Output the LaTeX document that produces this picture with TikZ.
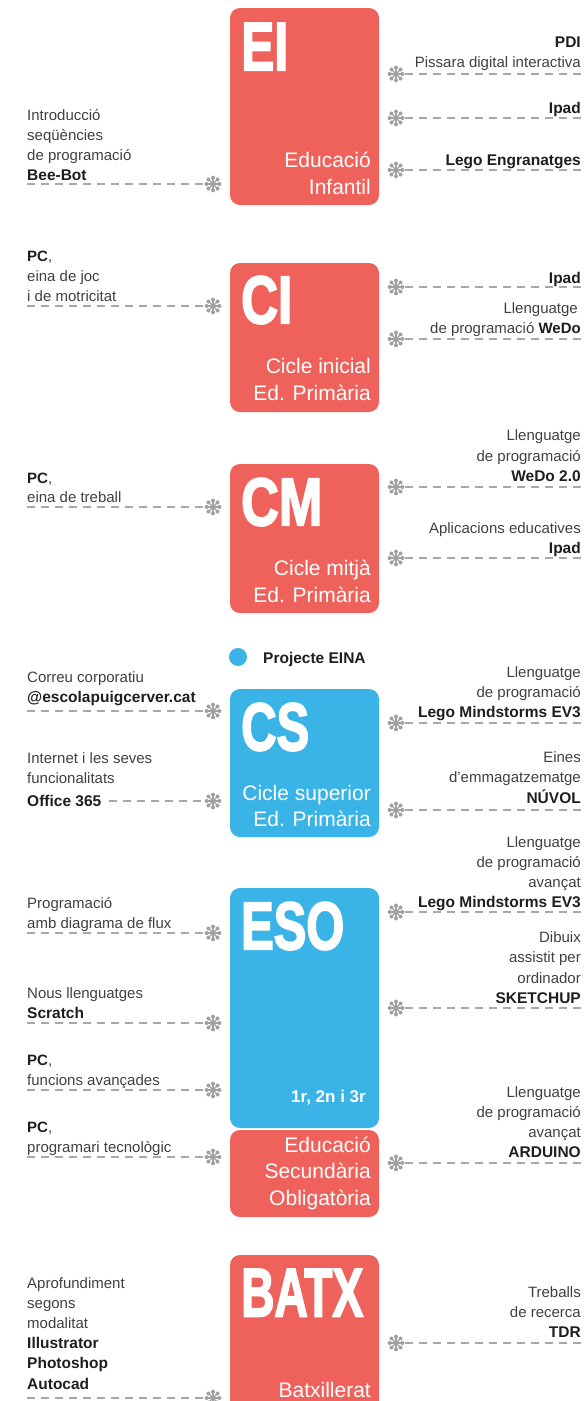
\documentclass[tikz,border=0pt]{standalone}
\usepackage{fontspec}
\setmainfont{Liberation Sans}
\newfontfamily\titlefont{Liberation Sans}[BoldFeatures={FakeBold=3}]
\usepackage{graphicx}
\usetikzlibrary{calc}
\definecolor{boxred}{HTML}{EE625B}
\definecolor{boxblue}{HTML}{3AB3E6}
\definecolor{dashgray}{HTML}{A8A8A8}
\definecolor{astgray}{HTML}{A0A0A0}
\definecolor{txtlight}{HTML}{404040}
\definecolor{txtbold}{HTML}{1E1E1E}
\newcommand{\ttl}[2]{\resizebox{#1pt}{47pt}{\titlefont\bfseries #2}}
\begin{document}
\begin{tikzpicture}[x=1pt,y=-1pt,
  box/.style={rounded corners=10pt, inner sep=0pt, outer sep=0pt, minimum width=149pt, anchor=north west},
  lt/.style={inner sep=0pt, text=txtlight, font=\fontsize{15}{18}\selectfont},
  bt/.style={inner sep=0pt, text=txtbold, font=\fontsize{15.5}{18}\selectfont\bfseries},
  lw/.style={anchor=base west},
  le/.style={anchor=base east},
  sub/.style={inner sep=0pt, text=white, font=\fontsize{21}{25}\selectfont, anchor=base east},
  ttlnode/.style={inner sep=0pt, text=white, anchor=north west},
  conn/.style={draw=dashgray, line width=2pt, dash pattern=on 8pt off 6pt},
  ast/.style={circle, inner sep=0pt, minimum size=18pt, path picture={
    \foreach \a in {0,45,...,315}{
      \draw[astgray, line width=1.3pt, line cap=round] (path picture bounding box.center) -- ++(\a:6.3pt);
      \fill[astgray] ($(path picture bounding box.center)+(\a:6.4pt)$) circle (2pt);
    }}}
]
\useasboundingbox (0,0) rectangle (585,1401);
\clip (0,0) rectangle (585,1401);

% ---------------- boxes ----------------
\node[box, fill=boxred, minimum height=197pt] (EI) at (230,8) {};
\node[box, fill=boxred, minimum height=149pt] (CI) at (230,263) {};
\node[box, fill=boxred, minimum height=149pt] (CM) at (230,464) {};
\node[box, fill=boxblue, minimum height=148pt] (CS) at (230,689) {};
\node[box, fill=boxblue, minimum height=240pt] (ESO) at (230,888) {};
\node[box, fill=boxred, minimum height=87pt] (ESOr) at (230,1130) {};
\node[box, fill=boxred, minimum height=180pt] (BATX) at (230,1255) {};

% titles
\node[ttlnode] (tEI) at (241,23) {\ttl{47}{EI}};
\node[ttlnode] (tCI) at (241,276) {\ttl{51}{CI}};
\node[ttlnode] (tCM) at (241,478) {\ttl{81}{CM}};
\node[ttlnode] (tCS) at (241,703) {\ttl{68}{CS}};
\node[ttlnode] (tESO) at (241,902) {\ttl{103}{ESO}};
\node[ttlnode] (tBATX) at (241,1269) {\ttl{122}{BATX}};

% subtitles
\node[sub] (sEI1) at (371,167) {Educació};
\node[sub] (sEI2) at (371,194) {Infantil};
\node[sub] (sCI1) at (371,373) {Cicle inicial};
\node[sub] (sCI2) at (371,400) {Ed. Primària};
\node[sub] (sCM1) at (371,575) {Cicle mitjà};
\node[sub] (sCM2) at (371,602) {Ed. Primària};
\node[sub] (sCS1) at (371,800) {Cicle superior};
\node[sub] (sCS2) at (371,826) {Ed. Primària};
\node[inner sep=0pt, text=white, font=\fontsize{17}{20}\selectfont\bfseries, anchor=base east] (sESO) at (366,1102) {1r, 2n i 3r};
\node[sub] (sESOr1) at (371,1152) {Educació};
\node[sub] (sESOr2) at (371,1178) {Secundària};
\node[sub] (sESOr3) at (371,1205) {Obligatòria};
\node[sub] (sBATX) at (371,1397) {Batxillerat};

% legend
\node[circle, fill=boxblue, minimum size=18pt, inner sep=0pt] (dot) at (238,657) {};
\node[bt, lw] (eina) at (263,663) {Projecte EINA};

% ---------------- EI ----------------
\node[lt, lw] (l1a) at (27,120) {Introducció};
\node[lt, lw] (l1b) at (27,140) {seqüències};
\node[lt, lw] (l1c) at (27,160) {de programació};
\node[bt, lw] (l1d) at (27,180) {Bee-Bot};
\node[ast] (aL1) at (213,184) {};
\coordinate (eL1) at (27,184);
\draw[conn] (eL1) -- (aL1.west);

\node[bt, le] (r1a) at (581,47) {PDI};
\node[lt, le] (r1b) at (581,67) {Pissara digital interactiva};
\node[ast] (aR1) at (396,74) {};
\coordinate (eR1) at (581,74);
\draw[conn] (aR1.east) -- (eR1);

\node[bt, le] (r2a) at (581,113) {Ipad};
\node[ast] (aR2) at (396,118) {};
\coordinate (eR2) at (581,118);
\draw[conn] (aR2.east) -- (eR2);

\node[bt, le] (r3a) at (581,165) {Lego Engranatges};
\node[ast] (aR3) at (396,170) {};
\coordinate (eR3) at (581,170);
\draw[conn] (aR3.east) -- (eR3);

% ---------------- CI ----------------
\node[lt, lw] (l2a) at (27,261) {\textbf{\color{txtbold}PC},};
\node[lt, lw] (l2b) at (27,281) {eina de joc};
\node[lt, lw] (l2c) at (27,301) {i de motricitat};
\node[ast] (aL2) at (213,306) {};
\coordinate (eL2) at (27,306);
\draw[conn] (eL2) -- (aL2.west);

\node[bt, le] (r4a) at (581,283) {Ipad};
\node[ast] (aR4) at (396,287) {};
\coordinate (eR4) at (581,287);
\draw[conn] (aR4.east) -- (eR4);

\node[lt, le] (r5a) at (578,313) {Llenguatge};
\node[lt, le] (r5b) at (581,333) {de programació \textbf{\color{txtbold}WeDo}};
\node[ast] (aR5) at (396,339) {};
\coordinate (eR5) at (581,339);
\draw[conn] (aR5.east) -- (eR5);

% ---------------- CM ----------------
\node[lt, lw] (l3a) at (27,483) {\textbf{\color{txtbold}PC},};
\node[lt, lw] (l3b) at (27,502) {eina de treball};
\node[ast] (aL3) at (213,507) {};
\coordinate (eL3) at (27,507);
\draw[conn] (eL3) -- (aL3.west);

\node[lt, le] (r6a) at (581,440) {Llenguatge};
\node[lt, le] (r6b) at (581,461) {de programació};
\node[bt, le] (r6c) at (581,481) {WeDo 2.0};
\node[ast] (aR6) at (396,487) {};
\coordinate (eR6) at (581,487);
\draw[conn] (aR6.east) -- (eR6);

\node[lt, le] (r7a) at (581,533) {Aplicacions educatives};
\node[bt, le] (r7b) at (581,553) {Ipad};
\node[ast] (aR7) at (396,558) {};
\coordinate (eR7) at (581,558);
\draw[conn] (aR7.east) -- (eR7);

% ---------------- CS ----------------
\node[lt, lw] (l4a) at (27,682) {Correu corporatiu};
\node[bt, lw] (l4b) at (27,702) {@escolapuigcerver.cat};
\node[ast] (aL4) at (213,711) {};
\coordinate (eL4) at (27,711);
\draw[conn] (eL4) -- (aL4.west);

\node[lt, lw] (l5a) at (27,763) {Internet i les seves};
\node[lt, lw] (l5b) at (27,783) {funcionalitats};
\node[bt, lw] (l5c) at (27,806) {Office 365};
\node[ast] (aL5) at (213,801) {};
\coordinate (eL5) at ($(l5c.east)+(8,0)$);
\draw[conn] (eL5 |- aL5) -- (aL5.west);

\node[lt, le] (r8a) at (581,677) {Llenguatge};
\node[lt, le] (r8b) at (581,697) {de programació};
\node[bt, le] (r8c) at (581,717) {Lego Mindstorms EV3};
\node[ast] (aR8) at (396,723) {};
\coordinate (eR8) at (581,723);
\draw[conn] (aR8.east) -- (eR8);

\node[lt, le] (r9a) at (581,762) {Eines};
\node[lt, le] (r9b) at (581,782) {d’emmagatzematge};
\node[bt, le] (r9c) at (581,803) {NÚVOL};
\node[ast] (aR9) at (396,810) {};
\coordinate (eR9) at (581,810);
\draw[conn] (aR9.east) -- (eR9);

% ---------------- ESO ----------------
\node[lt, lw] (l6a) at (27,908) {Programació};
\node[lt, lw] (l6b) at (27,928) {amb diagrama de flux};
\node[ast] (aL6) at (213,933) {};
\coordinate (eL6) at (27,933);
\draw[conn] (eL6) -- (aL6.west);

\node[lt, lw] (l7a) at (27,998) {Nous llenguatges};
\node[bt, lw] (l7b) at (27,1018) {Scratch};
\node[ast] (aL7) at (213,1023) {};
\coordinate (eL7) at (27,1023);
\draw[conn] (eL7) -- (aL7.west);

\node[lt, lw] (l8a) at (27,1065) {\textbf{\color{txtbold}PC},};
\node[lt, lw] (l8b) at (27,1085) {funcions avançades};
\node[ast] (aL8) at (213,1090) {};
\coordinate (eL8) at (27,1090);
\draw[conn] (eL8) -- (aL8.west);

\node[lt, lw] (l9a) at (27,1132) {\textbf{\color{txtbold}PC},};
\node[lt, lw] (l9b) at (27,1152) {programari tecnològic};
\node[ast] (aL9) at (213,1157) {};
\coordinate (eL9) at (27,1157);
\draw[conn] (eL9) -- (aL9.west);

\node[lt, le] (r10a) at (581,847) {Llenguatge};
\node[lt, le] (r10b) at (581,867) {de programació};
\node[lt, le] (r10c) at (581,887) {avançat};
\node[bt, le] (r10d) at (581,907) {Lego Mindstorms EV3};
\node[ast] (aR10) at (396,912) {};
\coordinate (eR10) at (581,912);
\draw[conn] (aR10.east) -- (eR10);

\node[lt, le] (r11a) at (581,942) {Dibuix};
\node[lt, le] (r11b) at (581,962) {assistit per};
\node[lt, le] (r11c) at (581,983) {ordinador};
\node[bt, le] (r11d) at (581,1003) {SKETCHUP};
\node[ast] (aR11) at (396,1008) {};
\coordinate (eR11) at (581,1008);
\draw[conn] (aR11.east) -- (eR11);

\node[lt, le] (r12a) at (581,1097) {Llenguatge};
\node[lt, le] (r12b) at (581,1117) {de programació};
\node[lt, le] (r12c) at (581,1137) {avançat};
\node[bt, le] (r12d) at (581,1157) {ARDUINO};
\node[ast] (aR12) at (396,1163) {};
\coordinate (eR12) at (581,1163);
\draw[conn] (aR12.east) -- (eR12);

% ---------------- BATX ----------------
\node[lt, lw] (l10a) at (27,1288) {Aprofundiment};
\node[lt, lw] (l10b) at (27,1308) {segons};
\node[lt, lw] (l10c) at (27,1328) {modalitat};
\node[bt, lw] (l10d) at (27,1348) {Illustrator};
\node[bt, lw] (l10e) at (27,1368) {Photoshop};
\node[bt, lw] (l10f) at (27,1389) {Autocad};
\node[ast] (aL10) at (213,1398) {};
\coordinate (eL10) at (27,1398);
\draw[conn] (eL10) -- (aL10.west);

\node[lt, le] (r13a) at (581,1297) {Treballs};
\node[lt, le] (r13b) at (581,1317) {de recerca};
\node[bt, le] (r13c) at (581,1337) {TDR};
\node[ast] (aR13) at (396,1343) {};
\coordinate (eR13) at (581,1343);
\draw[conn] (aR13.east) -- (eR13);
\end{tikzpicture}
\end{document}
